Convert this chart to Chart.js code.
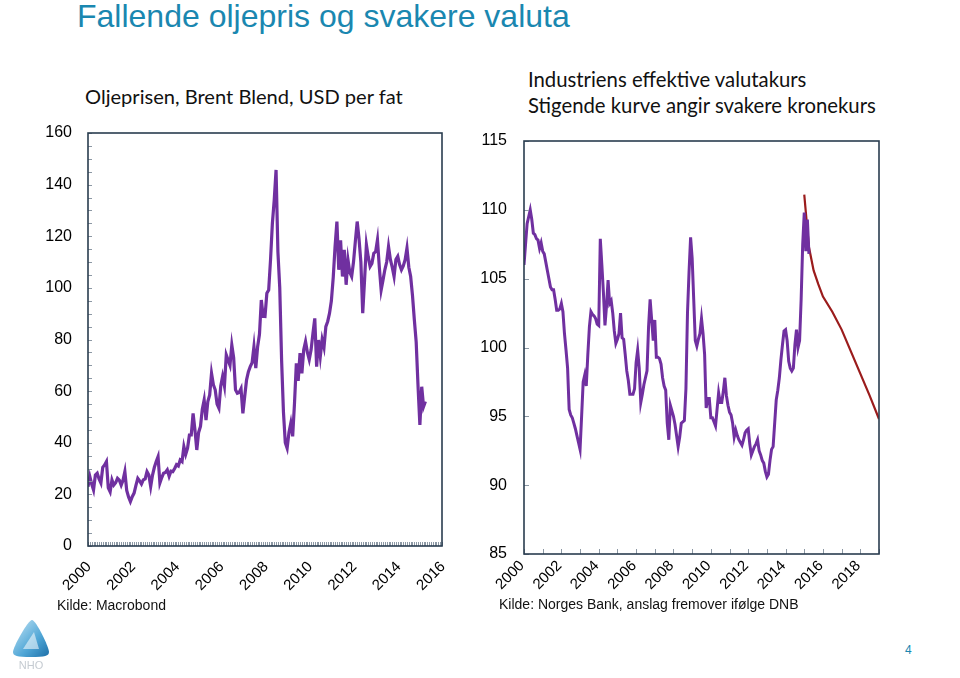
<!DOCTYPE html>
<html lang="no">
<head>
<meta charset="UTF-8">
<title>Fallende oljepris og svakere valuta</title>
<script src="https://cdn.jsdelivr.net/npm/chart.js"></script>
<style>
  body { margin:0; width:960px; height:678px; background:#fff; position:relative; overflow:hidden;
         font-family:'Liberation Sans', Arial, sans-serif; }
  .txt { position:absolute; white-space:nowrap; line-height:1; }
  #tittel { left:77px; top:-0.5px; font-size:32px; color:#1a87b0; }
  .under { font-family:Lato, 'Open Sans', sans-serif; font-size:20px; color:#111; }
  .kilde { font-family:'Liberation Sans', Arial, sans-serif; font-size:14px; color:#111; }
  #side { left:905px; top:644px; font-size:12px; color:#1a87b0; }
  canvas { position:absolute; }
</style>
</head>
<body>

<div class="txt" id="tittel">Fallende oljepris og svakere valuta</div>
<div class="txt under" id="uOlje" style="left:85px">Oljeprisen, Brent Blend, USD per fat</div>
<div class="txt under" id="uKurs1" style="left:528px">Industriens effektive valutakurs</div>
<div class="txt under" id="uKurs2" style="left:528px">Stigende kurve angir svakere kronekurs</div>

<canvas id="oljeChart" width="460" height="500" style="left:0;top:120px"></canvas>
<canvas id="kursChart" width="480" height="490" style="left:460px;top:130px"></canvas>

<div class="txt kilde" style="left:57px;top:598px">Kilde: Macrobond</div>
<div class="txt kilde" style="left:499px;top:597px">Kilde: Norges Bank, anslag fremover ifølge DNB</div>
<div class="txt" id="side">4</div>

<svg style="position:absolute;left:8px;top:617px" width="46" height="56" viewBox="0 0 46 56">
  <defs>
    <linearGradient id="nhoGrad" x1="0" y1="0" x2="1" y2="1">
      <stop offset="0" stop-color="#c6e6f6"/>
      <stop offset="0.6" stop-color="#4fa6d6"/>
      <stop offset="1" stop-color="#1d6fa8"/>
    </linearGradient>
  </defs>
  <path d="M24 3 C28 3 41 30 41 35 C41 39 37 40 23 40 C9 40 5 39 5 35 C5 30 20 3 24 3Z" fill="url(#nhoGrad)"/>
  <path d="M26 15 L31 32 L15 32 Z" fill="#ffffff" opacity="0.55"/>
  <text x="23" y="52" font-family="Liberation Sans, Arial" font-size="11" fill="#c5cbd1" text-anchor="middle">NHO</text>
</svg>

<script>
// Brent Blend, USD per fat, månedlig jan 2000 - apr 2015
const oljepris = [
  23.0, 26.9, 24.0, 21.7, 27.5, 28.2, 26.0, 24.4, 30.5, 31.4, 32.7, 22.5,
  21.0, 25.6, 23.6, 24.5, 26.2, 25.5, 23.6, 25.5, 28.8, 21.5, 19.0, 17.2,
  19.1, 20.5, 23.5, 26.2, 25.2, 24.0, 25.6, 26.0, 28.8, 27.5, 23.0, 27.5,
  30.5, 32.7, 34.6, 24.4, 26.5, 28.2, 28.5, 29.5, 27.0, 29.0, 28.8, 30.0,
  31.5, 31.0, 33.3, 32.7, 38.5, 35.5, 37.9, 43.0, 43.0, 51.4, 45.0, 37.2,
  44.0, 46.3, 53.0, 56.6, 48.8, 56.0, 58.5, 66.9, 62.5, 60.5, 55.0, 53.4,
  62.0, 65.7, 62.0, 74.0, 72.0, 70.0, 77.9, 73.0, 60.5, 59.2, 59.5, 61.0,
  51.4, 58.0, 64.4, 67.5, 69.5, 71.0, 77.2, 68.9, 77.2, 82.0, 95.3, 89.0,
  88.9, 97.9, 99.2, 110.9, 125.0, 134.0, 145.7, 114.0, 100.0, 72.0, 52.0, 40.0,
  37.9, 44.0, 47.6, 42.5, 55.3, 70.8, 64.0, 74.7, 66.9, 76.0, 79.2, 75.0,
  72.2, 76.0, 82.4, 88.2, 69.5, 79.8, 73.5, 80.0, 77.0, 85.0, 87.0, 90.2,
  95.0, 104.0, 116.0, 125.7, 107.0, 118.4, 104.4, 114.7, 101.2, 110.9, 106.0, 104.4,
  110.0, 118.0, 125.7, 119.0, 110.0, 90.2, 103.0, 116.7, 112.0, 108.3, 109.5, 113.4,
  114.0, 118.6, 108.0, 99.2, 103.0, 107.0, 110.0, 116.0, 111.0, 108.0, 104.4, 111.0,
  112.2, 109.0, 107.0, 108.5, 110.9, 115.4, 108.0, 104.4, 97.0, 87.6, 79.0, 62.0,
  46.9, 61.7, 54.0, 56.0
];

// Industriens effektive valutakurs, månedlig jan 2000 - apr 2015
const valutakurs = [
  106.0, 107.5, 109.0, 109.5, 110.0, 109.3, 108.3, 108.2, 107.9, 107.8, 107.2, 107.6,
  107.0, 106.8, 106.2, 105.6, 105.0, 104.4, 104.2, 104.2, 103.5, 102.7, 102.7, 102.8,
  103.2, 102.6, 101.0, 99.8, 98.5, 95.5, 95.1, 94.9, 94.5, 94.1, 93.6, 93.1,
  92.6, 95.0, 97.5, 98.0, 97.2, 99.5, 101.5, 102.6, 102.4, 102.3, 102.1, 101.7,
  101.6, 107.9, 106.0, 104.0, 101.6, 103.0, 104.9, 103.2, 103.4, 102.5, 101.2, 100.3,
  100.6, 101.0, 102.5, 100.7, 100.6, 99.5, 98.3, 97.6, 96.6, 96.6, 96.6, 97.0,
  98.9, 99.8, 98.5, 96.0, 96.6, 97.3, 97.8, 98.3, 101.5, 103.5, 102.0, 100.5,
  102.0, 99.3, 99.3, 99.2, 98.8, 97.8, 97.2, 96.9, 94.5, 93.3, 95.8, 95.4,
  95.0, 94.4, 93.6, 92.8, 93.5, 94.5, 94.6, 94.7, 97.0, 102.5, 105.5, 108.0,
  106.5, 103.5, 100.5, 100.1, 100.6, 101.0, 102.1, 101.0, 99.5, 95.6, 96.3, 96.3,
  94.9, 94.9, 94.6, 94.3, 95.5, 96.7, 96.0, 96.0, 96.8, 97.8, 96.5, 95.8,
  95.3, 95.1, 94.5, 93.5, 94.0, 93.6, 93.3, 93.1, 92.9, 93.3, 93.8, 94.0,
  94.1, 93.0, 92.2, 92.5, 92.8, 93.0, 93.3, 92.5, 92.2, 91.8, 91.6, 91.0,
  90.6, 90.8, 91.8, 92.6, 92.8, 94.5, 96.2, 96.9, 97.8, 99.1, 100.2, 101.2,
  101.3, 100.5, 99.0, 98.5, 98.3, 98.5, 100.2, 101.3, 100.0, 100.5, 103.5, 107.5,
  109.8, 107.0, 109.3, 106.8
];

// Anslag fremover (DNB)
const anslagAar = [2015.0, 2015.25, 2015.5, 2015.75, 2016.0, 2016.5, 2017.0, 2017.5, 2018.0, 2018.5, 2019.0];
const anslagKurs = [111.1, 107.3, 105.6, 104.6, 103.7, 102.6, 101.3, 99.7, 98.1, 96.5, 94.8];

// Aksemerker
const oljeAarTicks = [2000, 2002, 2004, 2006, 2008, 2010, 2012, 2014, 2016];
const oljeVerdiTicks = [0, 20, 40, 60, 80, 100, 120, 140, 160];
const kursAarTicks = [2000, 2002, 2004, 2006, 2008, 2010, 2012, 2014, 2016, 2018];
const kursVerdiTicks = [85, 90, 95, 100, 105, 110, 115];

const startAar = 2000;
const lilla = '#7030a0';
const moerkRoed = '#9b1c1c';
const rammeFarge = '#2a3d4f';
const tickFont = { family: "'Liberation Sans', Arial, sans-serif", size: 16 };

function maanedPunkter(verdier) {
  return verdier.map((v, i) => ({ x: startAar + i / 12, y: v }));
}

function steg(fra, til, d) {
  const ut = [];
  for (let v = fra; v <= til + 1e-9; v += d) ut.push(v);
  return ut;
}

// ramme rundt plottet og små merker innover
const ramme = {
  id: 'ramme',
  afterDatasetsDraw(chart, args, opts) {
    const { ctx, chartArea: a, scales } = chart;
    ctx.save();
    ctx.strokeStyle = '#8c98a4';
    ctx.lineWidth = 1;
    ctx.beginPath();
    opts.xMinor.forEach(v => {
      const px = Math.round(scales.x.getPixelForValue(v)) + 0.5;
      ctx.moveTo(px, a.bottom);
      ctx.lineTo(px, a.bottom - opts.xLen);
    });
    opts.yMinor.forEach(v => {
      const py = Math.round(scales.y.getPixelForValue(v)) + 0.5;
      ctx.moveTo(a.left, py);
      ctx.lineTo(a.left + opts.yLen, py);
    });
    ctx.stroke();
    ctx.strokeStyle = rammeFarge;
    ctx.lineWidth = 1.6;
    ctx.strokeRect(a.left, a.top, a.right - a.left, a.bottom - a.top);
    ctx.restore();
  }
};

function akser(o) {
  return {
    x: {
      type: 'linear', min: o.xMin, max: o.xMax,
      grid: { display: false, drawTicks: false }, border: { display: false },
      afterBuildTicks: s => { s.ticks = o.xTicks.map(v => ({ value: v })); },
      afterFit: s => { s.height = o.xHeight; s.paddingLeft = 0; s.paddingRight = 0; },
      ticks: { minRotation: 45, maxRotation: 45, autoSkip: false, padding: o.xPad, labelOffset: o.xOffset,
               color: '#000', font: { ...tickFont, size: 15 }, callback: v => String(v) }
    },
    y: {
      min: o.yMin, max: o.yMax,
      grid: { display: false, drawTicks: false }, border: { display: false },
      afterBuildTicks: s => { s.ticks = o.yTicks.map(v => ({ value: v })); },
      afterFit: s => { s.width = o.yWidth; s.paddingTop = 0; s.paddingBottom = 0; },
      ticks: { padding: o.yPad, color: '#000', font: tickFont, callback: v => String(v) }
    }
  };
}

new Chart(document.getElementById('oljeChart'), {
  type: 'line',
  data: {
    datasets: [{ data: maanedPunkter(oljepris), borderColor: lilla, borderWidth: 3.2, pointRadius: 0, tension: 0 }]
  },
  options: {
    responsive: false, animation: false, devicePixelRatio: 1,
    layout: { padding: { left: 0, right: 18, top: 13, bottom: 0 } },
    plugins: {
      legend: { display: false }, tooltip: { enabled: false },
      ramme: { xMinor: steg(2000, 2016, 1 / 12), xLen: 4, yMinor: steg(0, 160, 5), yLen: 4 }
    },
    scales: akser({ xMin: 2000, xMax: 2016, xTicks: oljeAarTicks, xHeight: 74, xPad: 12, xOffset: 1,
                    yMin: 0, yMax: 160, yTicks: oljeVerdiTicks, yWidth: 88, yPad: 16 })
  },
  plugins: [ramme]
});

new Chart(document.getElementById('kursChart'), {
  type: 'line',
  data: {
    datasets: [
      { data: maanedPunkter(valutakurs), borderColor: lilla, borderWidth: 3, pointRadius: 0, tension: 0 },
      { data: anslagAar.map((x, i) => ({ x, y: anslagKurs[i] })), borderColor: moerkRoed, borderWidth: 2.2, pointRadius: 0, tension: 0 }
    ]
  },
  options: {
    responsive: false, animation: false, devicePixelRatio: 1,
    layout: { padding: { left: 0, right: 61, top: 11, bottom: 0 } },
    plugins: {
      legend: { display: false }, tooltip: { enabled: false },
      ramme: { xMinor: steg(2000, 2019, 1), xLen: 5, yMinor: steg(85, 115, 5), yLen: 5 }
    },
    scales: akser({ xMin: 2000, xMax: 2019, xTicks: kursAarTicks, xHeight: 66, xPad: 3, xOffset: -2,
                    yMin: 85, yMax: 115, yTicks: kursVerdiTicks, yWidth: 64, yPad: 17 })
  },
  plugins: [ramme]
});

// undertitler: tilpass størrelse til bredden i forlegget og plasser etter grunnlinje
function tilpass(el, bredde) {
  const s = parseFloat(getComputedStyle(el).fontSize);
  const w = el.getBoundingClientRect().width;
  return s * bredde / w;
}
const uOlje = document.getElementById('uOlje');
const uKurs1 = document.getElementById('uKurs1');
const uKurs2 = document.getElementById('uKurs2');
const sOlje = tilpass(uOlje, 318);
const sKurs = tilpass(uKurs2, 348);
uOlje.style.fontSize = sOlje + 'px';
uOlje.style.top = (104 - 0.887 * sOlje) + 'px';
[uKurs1, uKurs2].forEach((el, i) => {
  el.style.fontSize = sKurs + 'px';
  el.style.top = ((i === 0 ? 87 : 113) - 0.887 * sKurs) + 'px';
});
</script>
</body>
</html>
